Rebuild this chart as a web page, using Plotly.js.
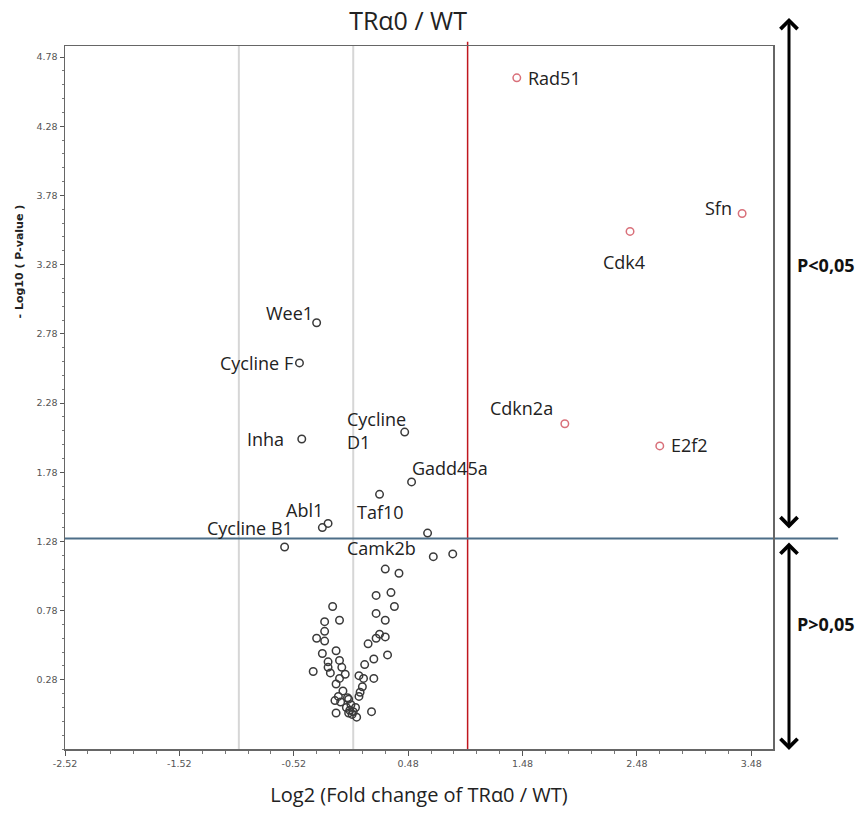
<!DOCTYPE html>
<html>
<head>
<meta charset="utf-8">
<script src="https://cdn.plot.ly/plotly-3.0.1.min.js"></script>
<style>html,body{margin:0;padding:0;background:#fff;}#chart{width:859px;height:818px;}</style>
</head>
<body>
<div id="chart"></div>
<script>
// Significant genes (red)
const sigGenes = ['Rad51', 'Cdk4', 'Sfn', 'Cdkn2a', 'E2f2'];
const sigLog2FC = [1.43, 2.42, 3.40, 1.85, 2.68];
const sigNegLog10P = [4.63, 3.52, 3.65, 2.13, 1.97];

// Labelled non-significant genes (black)
const nsGenes = ['Wee1', 'Cycline F', 'Inha', 'Cycline<br>D1', 'Gadd45a', 'Taf10', 'Abl1', 'Cycline B1', 'Camk2b'];
const nsLog2FC = [-0.32, -0.47, -0.45, 0.45, 0.51, 0.23, -0.27, -0.60, 0.70];
const nsNegLog10P = [2.86, 2.57, 2.02, 2.07, 1.71, 1.62, 1.38, 1.24, 1.17];

// Other (unlabelled) genes
const otherLog2FC = [-0.22, 0.65, 0.87, 0.28, 0.40, 0.20, 0.33, 0.36, 0.20, 0.28,
  -0.18, -0.12, -0.25, -0.25, -0.32, -0.25, -0.15, -0.27, -0.12, -0.22,
  -0.22, -0.10, -0.35, -0.20, -0.07, -0.12, -0.15, 0.23, 0.28, 0.20,
  0.13, 0.30, 0.18, 0.10, 0.05, 0.09, 0.18, 0.08, 0.05, 0.06,
  0.16, -0.15, -0.09, -0.13, -0.05, -0.16, -0.11, -0.04, -0.03, -0.01,
  -0.04, 0.00, 0.03, -0.06, 0.02, -0.02];
const otherNegLog10P = [1.41, 1.34, 1.19, 1.08, 1.05, 0.89, 0.91, 0.81, 0.76, 0.71,
  0.81, 0.71, 0.70, 0.63, 0.58, 0.56, 0.49, 0.47, 0.42, 0.41,
  0.37, 0.37, 0.34, 0.33, 0.32, 0.29, 0.25, 0.61, 0.59, 0.58,
  0.54, 0.46, 0.43, 0.39, 0.31, 0.29, 0.29, 0.23, 0.16, 0.19,
  0.05, 0.04, 0.20, 0.16, 0.15, 0.13, 0.12, 0.14, 0.06, 0.03,
  0.04, 0.05, 0.01, 0.08, 0.08, 0.10];

// Axis ticks
const xTickVals = [-2.52, -1.52, -0.52, 0.48, 1.48, 2.48, 3.48];
const xTickText = ['-2.52', '-1.52', '-0.52', '0.48', '1.48', '2.48', '3.48'];
const yTickVals = [0.28, 0.78, 1.28, 1.78, 2.28, 2.78, 3.28, 3.78, 4.28, 4.78];
const yTickText = ['0.28', '0.78', '1.28', '1.78', '2.28', '2.78', '3.28', '3.78', '4.28', '4.78'];

// Thresholds
const greyLines = [-1, 0];
const foldThreshold = 1;
const pThreshold = 1.301;

// label placement (pixel offsets)
const sigLabelStyle = [
  {xanchor: 'left', xshift: 9, yshift: 0},
  {xanchor: 'center', xshift: -6, yshift: -31},
  {xanchor: 'right', xshift: -8, yshift: 5},
  {xanchor: 'right', xshift: -10, yshift: 16},
  {xanchor: 'left', xshift: 9, yshift: 1}
];
const nsLabelStyle = [
  {xanchor: 'right', xshift: -2, yshift: 10},
  {xanchor: 'right', xshift: -4, yshift: 0},
  {xanchor: 'right', xshift: -16, yshift: 0},
  {xanchor: 'left', xshift: -60, yshift: 2, align: 'left'},
  {xanchor: 'left', xshift: -2, yshift: 14},
  {xanchor: 'left', xshift: -25, yshift: -18},
  {xanchor: 'right', xshift: 3, yshift: 18},
  {xanchor: 'right', xshift: 10, yshift: 19},
  {xanchor: 'left', xshift: -88, yshift: 9}
];

const blackMarker = {symbol: 'circle-open', size: 7.5, color: '#3a3a3a', line: {width: 1.5, color: '#3a3a3a'}};
const redMarker = {symbol: 'circle-open', size: 7.5, color: '#d9707a', line: {width: 1.5, color: '#d9707a'}};

const traces = [
  {x: otherLog2FC, y: otherNegLog10P, type: 'scatter', mode: 'markers', marker: blackMarker, hoverinfo: 'x+y', cliponaxis: false},
  {x: nsLog2FC, y: nsNegLog10P, text: nsGenes, type: 'scatter', mode: 'markers', marker: blackMarker, cliponaxis: false},
  {x: sigLog2FC, y: sigNegLog10P, text: sigGenes, type: 'scatter', mode: 'markers', marker: redMarker, cliponaxis: false}
];

const labelFont = {family: 'Open Sans, sans-serif', size: 18, color: '#222'};
const annotations = [];
sigGenes.forEach((g, i) => {
  const s = sigLabelStyle[i];
  annotations.push({x: sigLog2FC[i], y: sigNegLog10P[i], xref: 'x', yref: 'y', text: g, showarrow: false,
    xanchor: s.xanchor, yanchor: 'middle', xshift: s.xshift, yshift: s.yshift, font: labelFont});
});
nsGenes.forEach((g, i) => {
  const s = nsLabelStyle[i];
  annotations.push({x: nsLog2FC[i], y: nsNegLog10P[i], xref: 'x', yref: 'y', text: g, showarrow: false,
    xanchor: s.xanchor, yanchor: 'middle', xshift: s.xshift, yshift: s.yshift, align: s.align || 'center', font: labelFont});
});

// y axis title as annotation
annotations.push({x: -0.064, y: 0.693, xref: 'paper', yref: 'paper', text: '- Log10 ( P-value )', textangle: -90,
  showarrow: false, xanchor: 'center', yanchor: 'middle', font: {family: 'DejaVu Sans, sans-serif', size: 11, color: '#222', weight: 'bold'}});

// arrows
annotations.push({x: 1.0226, y: 1.040, xref: 'paper', yref: 'paper', ax: 0, ay: 512, axref: 'pixel', ayref: 'pixel',
  text: '', showarrow: true, arrowhead: 4, startarrowhead: 4, arrowside: 'end+start', arrowsize: 1.1, startarrowsize: 1.1, arrowwidth: 3, arrowcolor: '#000', standoff: 0, startstandoff: 0});
annotations.push({x: 1.0226, y: -0.0014, xref: 'paper', yref: 'paper', ax: 0, ay: -209, axref: 'pixel', ayref: 'pixel',
  text: '', showarrow: true, arrowhead: 4, startarrowhead: 4, arrowside: 'end+start', arrowsize: 1.1, startarrowsize: 1.1, arrowwidth: 3, arrowcolor: '#000', standoff: 0, startstandoff: 0});

const pFont = {family: 'Open Sans, sans-serif', size: 18, color: '#111', weight: 'bold'};
annotations.push({x: 1.031, y: 0.688, xref: 'paper', yref: 'paper', text: 'P<0,05', showarrow: false, xanchor: 'left', yanchor: 'middle', font: pFont});
annotations.push({x: 1.031, y: 0.178, xref: 'paper', yref: 'paper', text: 'P>0,05', showarrow: false, xanchor: 'left', yanchor: 'middle', font: pFont});

const shapes = [];
greyLines.forEach(v => shapes.push({type: 'line', xref: 'x', yref: 'paper', x0: v, x1: v, y0: 0, y1: 1, layer: 'below', line: {color: '#d6d6d6', width: 2}}));
shapes.push({type: 'line', xref: 'x', yref: 'paper', x0: foldThreshold, x1: foldThreshold, y0: 0, y1: 1.006, layer: 'below', line: {color: '#c0161e', width: 1.5}});
shapes.push({type: 'line', xref: 'paper', yref: 'y', x0: 0, x1: 1.092, y0: pThreshold, y1: pThreshold, layer: 'below', line: {color: '#4d6e88', width: 2.2}});

const tickFont = {family: 'DejaVu Sans, sans-serif', size: 9.5, color: '#555'};
const layout = {
  width: 859, height: 818,
  margin: {l: 65, r: 86, t: 46, b: 69},
  paper_bgcolor: '#fff', plot_bgcolor: '#fff',
  showlegend: false,
  title: {text: 'TRα0 / WT', x: 0.475, xref: 'container', xanchor: 'center', y: 0.974, yref: 'container', yanchor: 'middle',
    font: {family: 'Open Sans, sans-serif', size: 25, color: '#222'}},
  xaxis: {
    range: [-2.52, 3.67], tickmode: 'array', tickvals: xTickVals, ticktext: xTickText,
    ticks: 'outside', ticklen: 5, tickwidth: 1, tickcolor: '#555', tickfont: tickFont,
    minor: {tickmode: 'linear', tick0: -2.52, dtick: 0.2, ticks: 'outside', ticklen: 3, tickcolor: '#777', showgrid: false},
    showline: true, linecolor: '#666', linewidth: 1.5, mirror: true,
    showgrid: false, zeroline: false,
    title: {text: 'Log2 (Fold change of TRα0 / WT)', standoff: 20, font: {family: 'Open Sans, sans-serif', size: 20, color: '#222'}}
  },
  yaxis: {
    range: [-0.22, 4.86], tickmode: 'array', tickvals: yTickVals, ticktext: yTickText,
    ticks: 'outside', ticklen: 4, tickwidth: 1, tickcolor: '#555', tickfont: tickFont,
    minor: {tickmode: 'linear', tick0: 0.28, dtick: 0.1, ticks: 'outside', ticklen: 2, tickcolor: '#777', showgrid: false},
    showline: true, linecolor: '#666', linewidth: 1.5, mirror: true,
    showgrid: false, zeroline: false
  },
  shapes: shapes,
  annotations: annotations
};

Plotly.newPlot('chart', traces, layout, {displayModeBar: false, staticPlot: true});
</script>
</body>
</html>
